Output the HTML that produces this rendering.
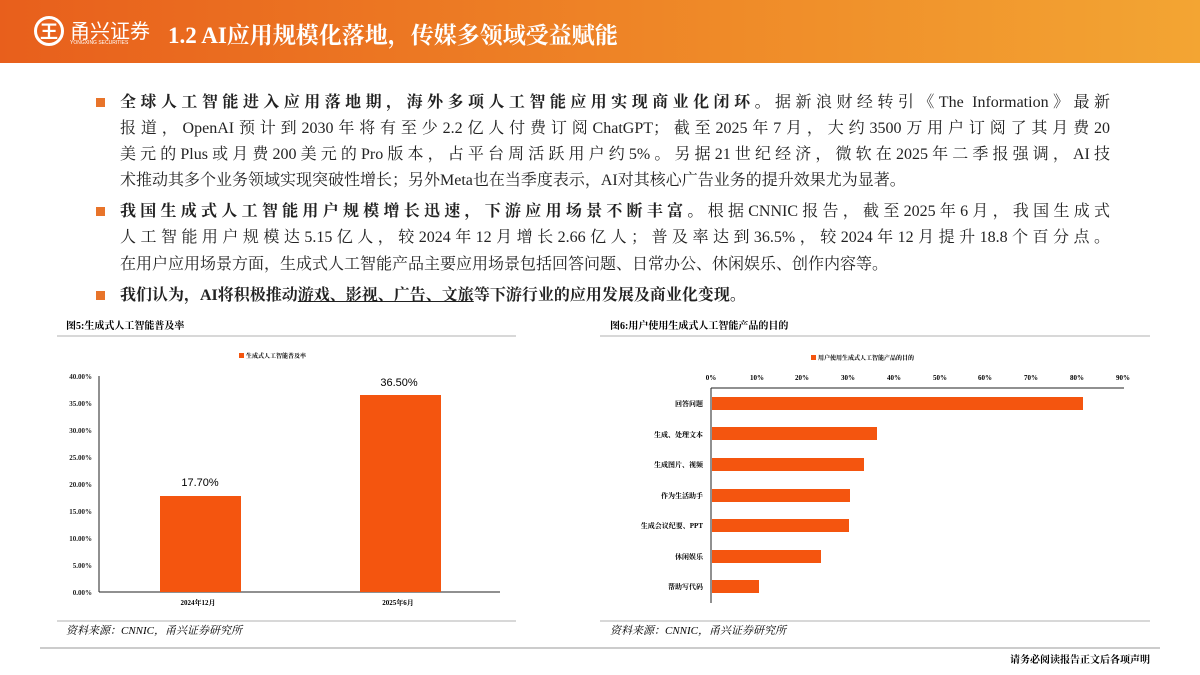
<!DOCTYPE html><html><head><meta charset="utf-8"><style>
*{margin:0;padding:0;box-sizing:border-box}
body{width:1200px;height:675px;background:#fff;position:relative;overflow:hidden;font-family:"Liberation Serif","Noto Serif CJK SC",serif;color:#222}
.hdr{position:absolute;left:0;top:0;width:1200px;height:63px;background:linear-gradient(90deg,#e85f1c,#ef8a28 60%,#f3a533)}
.ln{position:absolute;left:120px;width:990px;font-size:16px;height:22px;line-height:22px;white-space:nowrap;text-align:justify;text-align-last:justify}
.last{text-align-last:left}
.b{font-weight:bold}
.sq{position:absolute;left:96px;width:9px;height:9px;background:#e8742a}
.a{position:absolute;white-space:nowrap}
</style></head><body>
<div class="hdr"></div>
<div class="a" style="left:34px;top:16px;width:30px;height:30px;border:3px solid #fff;border-radius:50%;color:#fff;font:bold 18px 'Noto Sans CJK SC',sans-serif;text-align:center;line-height:24px">王</div>
<div class="a" style="left:70px;top:15px;color:#fff;font:20px 'Noto Sans CJK SC',sans-serif">甬兴证券</div>
<div class="a" style="left:70px;top:40px;color:#fff;font:5px 'Liberation Sans',sans-serif">YONGXING SECURITIES</div>
<div class="a" style="left:168px;top:17px;color:#fff;font-weight:bold;font-size:23px">1.2 AI应用规模化落地，传媒多领域受益赋能</div>

<div class="sq" style="top:98px"></div>
<div class="ln" style="top:92px"><b>全球人工智能进入应用落地期，海外多项人工智能应用实现商业化闭环。</b>据新浪财经转引《The Information》最新</div>
<div class="ln" style="top:118px">报道，OpenAI预计到2030年将有至少2.2亿人付费订阅ChatGPT；截至2025年7月，大约3500万用户订阅了其月费20</div>
<div class="ln" style="top:144px">美元的Plus或月费200美元的Pro版本，占平台周活跃用户约5%。另据21世纪经济，微软在2025年二季报强调，AI技</div>
<div class="ln last" style="top:170px">术推动其多个业务领域实现突破性增长；另外Meta也在当季度表示，AI对其核心广告业务的提升效果尤为显著。</div>
<div class="sq" style="top:207px"></div>
<div class="ln" style="top:201px"><b>我国生成式人工智能用户规模增长迅速，下游应用场景不断丰富。</b>根据CNNIC报告，截至2025年6月，我国生成式</div>
<div class="ln" style="top:227px">人工智能用户规模达5.15亿人，较2024年12月增长2.66亿人；普及率达到36.5%，较2024年12月提升18.8个百分点。</div>
<div class="ln last" style="top:254px">在用户应用场景方面，生成式人工智能产品主要应用场景包括回答问题、日常办公、休闲娱乐、创作内容等。</div>
<div class="sq" style="top:291px"></div>
<div class="ln last b" style="top:285px">我们认为，AI将积极推动<u>游戏、影视、广告、文旅</u>等下游行业的应用发展及商业化变现。</div>

<svg class="a" style="left:0;top:0" width="1200" height="675" font-family="Liberation Serif,Noto Serif CJK SC,serif">
<text x="66" y="329" font-size="10" font-weight="bold">图5:生成式人工智能普及率</text>
<line x1="57" y1="336" x2="516" y2="336" stroke="#ccc" stroke-width="1.5"/>
<rect x="239" y="353" width="5" height="5" fill="#f4550f"/>
<text x="246" y="358" font-size="6" font-weight="bold">生成式人工智能普及率</text>
<g font-size="7" text-anchor="end" fill="#222" font-weight="bold">
<text x="92" y="379">40.00%</text><text x="92" y="406">35.00%</text><text x="92" y="433">30.00%</text><text x="92" y="460">25.00%</text><text x="92" y="487">20.00%</text><text x="92" y="514">15.00%</text><text x="92" y="541">10.00%</text><text x="92" y="568">5.00%</text><text x="92" y="595">0.00%</text>
</g>
<line x1="99" y1="376" x2="99" y2="592" stroke="#222"/>
<line x1="99" y1="592" x2="500" y2="592" stroke="#222"/>
<rect x="160" y="496" width="81" height="96" fill="#f4550f"/>
<rect x="360" y="395" width="81" height="197" fill="#f4550f"/>
<text x="200" y="486" font-size="11" text-anchor="middle" font-family="Liberation Sans,sans-serif">17.70%</text>
<text x="399" y="386" font-size="11" text-anchor="middle" font-family="Liberation Sans,sans-serif">36.50%</text>
<text x="198" y="605" font-size="7" text-anchor="middle" font-weight="bold">2024年12月</text>
<text x="398" y="605" font-size="7" text-anchor="middle" font-weight="bold">2025年6月</text>
<line x1="57" y1="621" x2="516" y2="621" stroke="#ccc" stroke-width="1.5"/>
<text x="66" y="634" font-size="11" font-style="italic">资料来源：CNNIC，甬兴证券研究所</text>

<text x="610" y="329" font-size="10" font-weight="bold">图6:用户使用生成式人工智能产品的目的</text>
<line x1="600" y1="336" x2="1150" y2="336" stroke="#ccc" stroke-width="1.5"/>
<rect x="811" y="355" width="5" height="5" fill="#f4550f"/>
<text x="818" y="360" font-size="6" font-weight="bold">用户使用生成式人工智能产品的目的</text>
<g font-size="7" text-anchor="middle" font-weight="bold">
<text x="711" y="380">0%</text><text x="757" y="380">10%</text><text x="802" y="380">20%</text><text x="848" y="380">30%</text><text x="894" y="380">40%</text><text x="940" y="380">50%</text><text x="985" y="380">60%</text><text x="1031" y="380">70%</text><text x="1077" y="380">80%</text><text x="1123" y="380">90%</text>
</g>
<line x1="711" y1="388" x2="1124" y2="388" stroke="#222"/>
<line x1="711" y1="388" x2="711" y2="603" stroke="#222"/>
<g fill="#f4550f">
<rect x="712" y="397" width="371" height="13"/>
<rect x="712" y="427" width="165" height="13"/>
<rect x="712" y="458" width="152" height="13"/>
<rect x="712" y="489" width="138" height="13"/>
<rect x="712" y="519" width="137" height="13"/>
<rect x="712" y="550" width="109" height="13"/>
<rect x="712" y="580" width="47" height="13"/>
</g>
<g font-size="7" text-anchor="end" font-weight="bold">
<text x="703" y="406">回答问题</text><text x="703" y="437">生成、处理文本</text><text x="703" y="467">生成图片、视频</text><text x="703" y="498">作为生活助手</text><text x="703" y="528">生成会议纪要、PPT</text><text x="703" y="559">休闲娱乐</text><text x="703" y="589">帮助写代码</text>
</g>
<line x1="600" y1="621" x2="1150" y2="621" stroke="#ccc" stroke-width="1.5"/>
<text x="610" y="634" font-size="11" font-style="italic">资料来源：CNNIC，甬兴证券研究所</text>

<line x1="40" y1="648" x2="1160" y2="648" stroke="#999" stroke-width="1"/>
<text x="1150" y="663" font-size="10" font-weight="bold" text-anchor="end">请务必阅读报告正文后各项声明</text>
</svg>
</body></html>
